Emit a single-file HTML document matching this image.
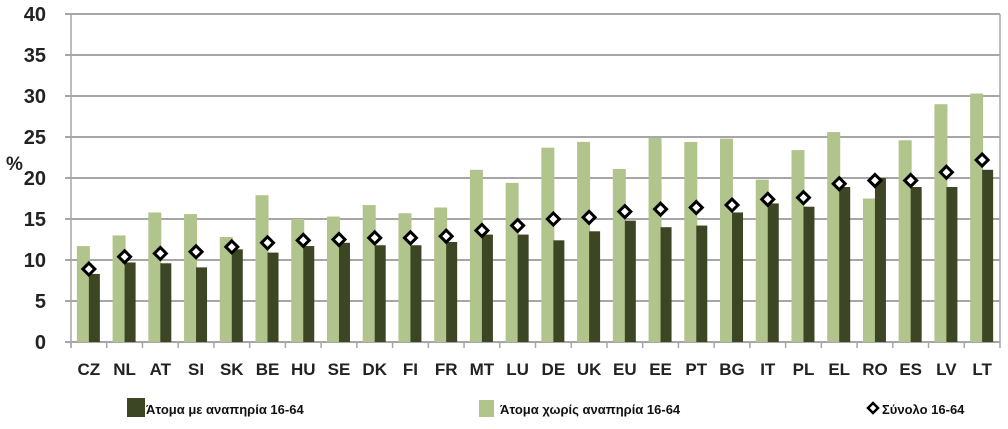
<!DOCTYPE html>
<html><head><meta charset="utf-8"><style>
body{margin:0;background:#fff;width:1008px;height:424px;overflow:hidden}
text{font-family:"Liberation Sans","DejaVu Sans",sans-serif;font-weight:bold}
</style></head><body>
<svg id="chart" width="1008" height="424" xmlns="http://www.w3.org/2000/svg"></svg>
<script>
const categories=["CZ","NL","AT","SI","SK","BE","HU","SE","DK","FI","FR","MT","LU","DE","UK","EU","EE","PT","BG","IT","PL","EL","RO","ES","LV","LT"];
const withoutDisability=[11.7,13,15.8,15.6,12.8,17.9,15,15.3,16.7,15.7,16.4,21,19.4,23.7,24.4,21.1,24.9,24.4,24.8,19.8,23.4,25.6,17.5,24.6,29,30.3];
const withDisability=[8.3,9.7,9.6,9.1,11.3,10.9,11.7,12.1,11.8,11.8,12.2,13.1,13.1,12.4,13.5,14.8,14,14.2,15.8,16.9,16.5,18.9,20,18.9,18.9,21];
const total=[8.9,10.4,10.8,11,11.6,12.1,12.4,12.5,12.7,12.7,12.9,13.6,14.2,15,15.2,15.9,16.2,16.4,16.7,17.4,17.6,19.3,19.7,19.7,20.7,22.2];
const yTicks=[0,5,10,15,20,25,30,35,40];
const NS="http://www.w3.org/2000/svg";
const svg=document.getElementById("chart");
const x0=71,x1=1000,y0=342,y1=14;
const bw=(x1-x0)/categories.length;
const yS=v=>y0-(v/40)*(y0-y1);
const xC=i=>x0+bw*(i+0.5);
function mk(t,a,txt){const e=document.createElementNS(NS,t);for(const k in a)e.setAttribute(k,a[k]);if(txt!==undefined)e.textContent=txt;svg.appendChild(e);return e;}
yTicks.forEach(v=>{
 const l=mk("line",{x1:x0-6,x2:x1,y1:yS(v),y2:yS(v),stroke:"#a6a6a6","stroke-width":2});
 
 
 const t=mk("text",{x:46,y:yS(v)+7,"text-anchor":"end","font-size":20,fill:"#222"},v);
 
 
});
const yt=mk("text",{x:6,y:170,"font-size":19,fill:"#222"},"%");


mk("line",{x1:x0,x2:x0,y1:y1,y2:y0+6,stroke:"#a6a6a6","stroke-width":1.5});
mk("line",{x1:x1,x2:x1,y1:y1,y2:y0+6,stroke:"#a6a6a6","stroke-width":1.5});
categories.forEach((c,i)=>{
 const cx=xC(i);
 const tk=mk("line",{x1:x0+bw*i,x2:x0+bw*i,y1:y0,y2:y0+6,stroke:"#a6a6a6","stroke-width":1.5});
 const a=mk("rect",{x:cx-12,y:yS(withoutDisability[i]),width:13,height:y0-yS(withoutDisability[i]),fill:"#b0c48c"});
 
 
 const b=mk("rect",{x:cx,y:yS(withDisability[i]),width:11,height:y0-yS(withDisability[i]),fill:"#3c4524"});
 
 
 const ty=yS(total[i]);
 const m=mk("polygon",{points:`${cx},${ty-6} ${cx+6},${ty} ${cx},${ty+6} ${cx-6},${ty}`,fill:"#fff",stroke:"#000","stroke-width":3});
 
 
 const t=mk("text",{x:cx,y:375,"text-anchor":"middle","font-size":17,fill:"#222"},c);
 
 
});
const l1=mk("rect",{x:127,y:398,width:18,height:19,fill:"#3c4524"});


const lt1=mk("text",{x:146,y:414,"font-size":13,fill:"#111"},"Άτομα με αναπηρία 16-64");


const l2=mk("rect",{x:479,y:400,width:15,height:17,fill:"#b0c48c"});


const lt2=mk("text",{x:500,y:414,"font-size":13,fill:"#111"},"Άτομα χωρίς αναπηρία 16-64");


const l3=mk("polygon",{points:"873,403 878,408 873,413 868,408",fill:"#fff",stroke:"#000","stroke-width":2.5});


const lt3=mk("text",{x:882,y:414,"font-size":13,fill:"#111"},"Σύνολο 16-64");


</script>
</body></html>
